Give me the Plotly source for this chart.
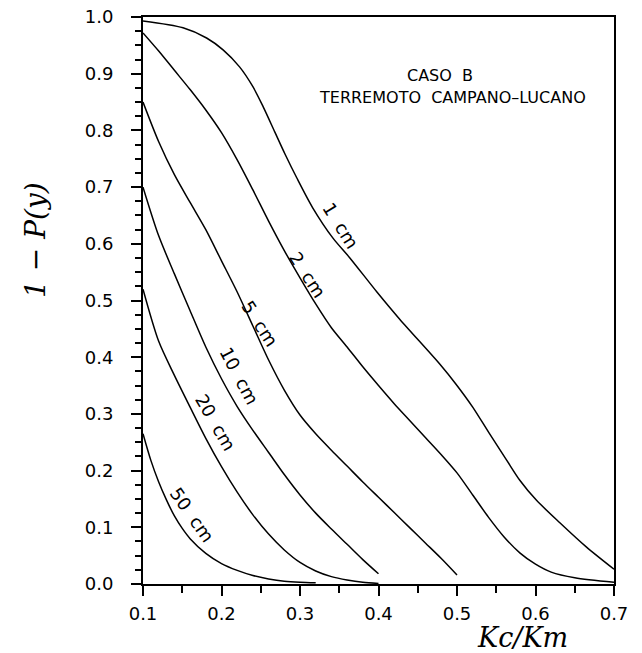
import plotly.graph_objects as go

# ---- data ----
x_1cm = [0.10, 0.151, 0.181, 0.202, 0.223, 0.240, 0.253, 0.268, 0.281, 0.296, 0.316, 0.342, 0.363, 0.398, 0.427, 0.478, 0.499, 0.520, 0.541, 0.563, 0.580, 0.601, 0.631, 0.665, 0.70]
y_1cm = [0.993, 0.981, 0.963, 0.942, 0.912, 0.877, 0.842, 0.797, 0.758, 0.716, 0.664, 0.610, 0.576, 0.515, 0.467, 0.388, 0.352, 0.312, 0.266, 0.219, 0.183, 0.148, 0.108, 0.065, 0.026]

x_2cm = [0.10, 0.12, 0.14, 0.16, 0.18, 0.20, 0.22, 0.24, 0.26, 0.28, 0.30, 0.32, 0.34, 0.36, 0.38, 0.40, 0.42, 0.44, 0.46, 0.48, 0.50, 0.52, 0.54, 0.56, 0.58, 0.60, 0.62, 0.65, 0.70]
y_2cm = [0.972, 0.940, 0.906, 0.872, 0.836, 0.796, 0.748, 0.695, 0.640, 0.588, 0.540, 0.494, 0.452, 0.418, 0.383, 0.350, 0.318, 0.288, 0.258, 0.228, 0.196, 0.157, 0.118, 0.083, 0.055, 0.035, 0.021, 0.011, 0.003]

x_5cm = [0.10, 0.12, 0.14, 0.16, 0.18, 0.20, 0.22, 0.24, 0.26, 0.28, 0.30, 0.32, 0.34, 0.36, 0.38, 0.40, 0.42, 0.44, 0.46, 0.48, 0.50]
y_5cm = [0.850, 0.780, 0.722, 0.673, 0.625, 0.570, 0.515, 0.455, 0.395, 0.342, 0.298, 0.265, 0.236, 0.208, 0.180, 0.153, 0.126, 0.099, 0.072, 0.045, 0.016]

x_10cm = [0.10, 0.12, 0.14, 0.16, 0.18, 0.20, 0.22, 0.24, 0.26, 0.28, 0.30, 0.32, 0.34, 0.36, 0.38, 0.40]
y_10cm = [0.700, 0.614, 0.547, 0.482, 0.418, 0.362, 0.313, 0.271, 0.232, 0.193, 0.157, 0.125, 0.097, 0.070, 0.043, 0.018]

x_20cm = [0.10, 0.12, 0.14, 0.16, 0.18, 0.20, 0.22, 0.24, 0.26, 0.28, 0.30, 0.32, 0.34, 0.36, 0.38, 0.40]
y_20cm = [0.520, 0.428, 0.368, 0.312, 0.257, 0.207, 0.162, 0.122, 0.088, 0.060, 0.038, 0.023, 0.013, 0.007, 0.003, 0.001]

x_50cm = [0.10, 0.11, 0.12, 0.13, 0.14, 0.15, 0.16, 0.18, 0.20, 0.22, 0.24, 0.26, 0.28, 0.30, 0.32]
y_50cm = [0.265, 0.218, 0.180, 0.148, 0.120, 0.098, 0.080, 0.054, 0.036, 0.024, 0.015, 0.009, 0.005, 0.003, 0.002]

series = [
    ("1 cm", x_1cm, y_1cm),
    ("2 cm", x_2cm, y_2cm),
    ("5 cm", x_5cm, y_5cm),
    ("10 cm", x_10cm, y_10cm),
    ("20 cm", x_20cm, y_20cm),
    ("50 cm", x_50cm, y_50cm),
]

# curve labels: text, x, y, angle
label_text = ["1\u00a0\u00a0cm", "2\u00a0\u00a0cm", "5\u00a0\u00a0cm", "10\u00a0\u00a0cm", "20\u00a0\u00a0cm", "50\u00a0\u00a0cm"]
label_x = [0.352, 0.309, 0.249, 0.222, 0.192, 0.162]
label_y = [0.633, 0.545, 0.460, 0.367, 0.284, 0.122]
label_angle = [58, 57, 57, 62, 60, 55]

x_ticks = [0.1, 0.2, 0.3, 0.4, 0.5, 0.6, 0.7]
y_ticks = [0.0, 0.1, 0.2, 0.3, 0.4, 0.5, 0.6, 0.7, 0.8, 0.9, 1.0]

fig = go.Figure()
for name, xs, ys in series:
    fig.add_trace(go.Scatter(x=xs, y=ys, mode="lines", name=name,
                             line=dict(color="black", width=1.5, shape="spline", smoothing=0.8),
                             showlegend=False, hoverinfo="skip"))

for t, xx, yy, a in zip(label_text, label_x, label_y, label_angle):
    fig.add_annotation(x=xx, y=yy, xref="x", yref="y", text=t, textangle=a,
                       xanchor="center", yanchor="middle",
                       showarrow=False, font=dict(family="DejaVu Sans", size=18, color="black"))

fig.add_annotation(x=0.631, y=0.896, xref="paper", yref="paper", text="CASO\u00a0\u00a0B",
                   xanchor="center", yanchor="middle",
                   showarrow=False, font=dict(family="DejaVu Sans", size=16, color="black"))
fig.add_annotation(x=0.658, y=0.858, xref="paper", yref="paper",
                   text="TERREMOTO\u00a0\u00a0CAMPANO\u2013LUCANO",
                   xanchor="center", yanchor="middle",
                   showarrow=False, font=dict(family="DejaVu Sans", size=16, color="black"))

# axis titles
fig.add_annotation(x=-0.227, y=0.607, xref="paper", yref="paper",
                   text="<i>1\u00a0\u2212\u00a0P(y)</i>",
                   textangle=-90, showarrow=False, xanchor="center", yanchor="middle",
                   font=dict(family="DejaVu Serif", size=28, color="black"))
fig.add_annotation(x=0.805, y=-0.095, xref="paper", yref="paper", text="<i>Kc/Km</i>",
                   showarrow=False, xanchor="center", yanchor="middle",
                   font=dict(family="DejaVu Serif", size=27, color="black"))

axis_common = dict(showgrid=False, zeroline=False, showline=True, linecolor="black",
                   linewidth=2, mirror=True, ticks="outside", tickcolor="black",
                   tickwidth=1.5, ticklen=10, automargin=False, ticklabeloverflow="allow",
                   tickfont=dict(family="DejaVu Sans", size=18, color="black"))

fig.update_xaxes(range=[0.1, 0.7], tickvals=x_ticks, tickformat=".1f",
                 minor=dict(ticks="outside", ticklen=7, tickwidth=1.5, tickcolor="black",
                            dtick=0.05, tick0=0.1),
                 ticklabelstandoff=2, **axis_common)
fig.update_yaxes(range=[0, 1.0], tickvals=y_ticks, tickformat=".1f",
                 minor=dict(ticks="outside", ticklen=6, tickwidth=1.5, tickcolor="black",
                            dtick=0.025, tick0=0),
                 ticklabelstandoff=14, **axis_common)

fig.update_layout(width=642, height=653,
                  margin=dict(l=143, r=28, t=17, b=69),
                  paper_bgcolor="white", plot_bgcolor="white")

fig.write_html("out.html", config={"displayModeBar": False},
               post_script="document.body.style.margin='0';")
